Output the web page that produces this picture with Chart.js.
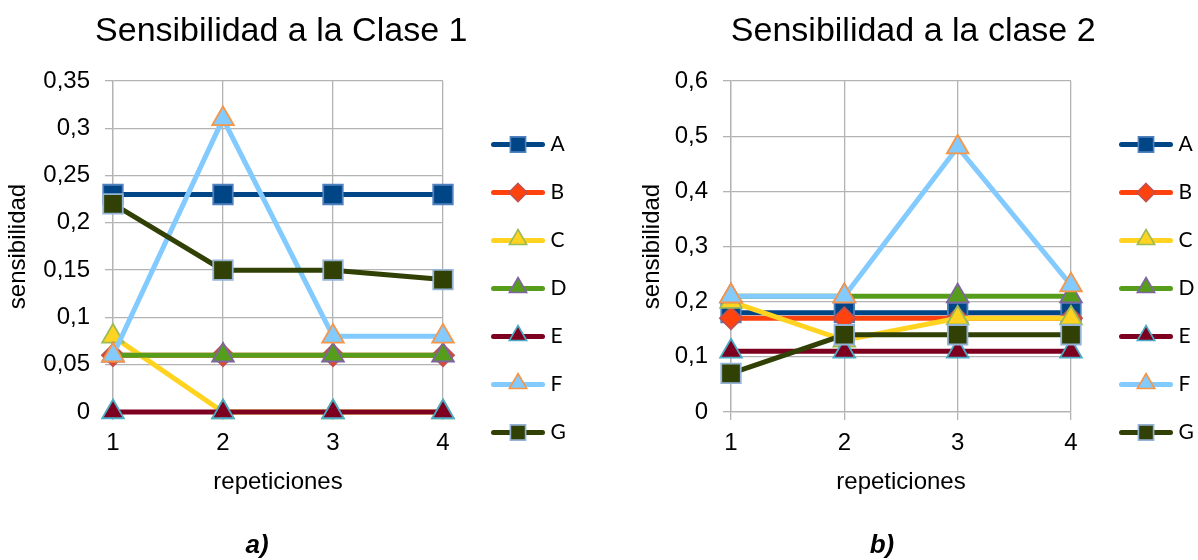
<!DOCTYPE html>
<html>
<head>
<meta charset="utf-8">
<title>Sensibilidad por clase</title>
<script src="https://cdn.jsdelivr.net/npm/chart.js@4/dist/chart.umd.min.js"></script>
<style>
  html, body { margin: 0; padding: 0; background: #fff; width: 1198px; height: 560px; overflow: hidden; }
  canvas { position: absolute; }
  #chart1 { left: -14px; top: 15px; }
  #chart2 { left: 622px; top: 15px; }
  .tag { position: absolute; width: 100px; text-align: center; top: 531px;
         font: italic bold 26px 'Liberation Sans', Arial, sans-serif; line-height: 26px; color: #000; }
</style>
</head>
<body>
<canvas id="chart1"></canvas>
<canvas id="chart2"></canvas>
<div class="tag" style="left:207px">a)</div>
<div class="tag" style="left:832px">b)</div>
<script>
// ---- data ----------------------------------------------------------
const repeticiones = ['1', '2', '3', '4'];
const seriesNames = ['A', 'B', 'C', 'D', 'E', 'F', 'G'];

// Sensibilidad a la Clase 1
const clase1A = [0.23, 0.23, 0.23, 0.23];
const clase1B = [0.06, 0.06, 0.06, 0.06];
const clase1C = [0.08, 0, 0, 0];
const clase1D = [0.06, 0.06, 0.06, 0.06];
const clase1E = [0, 0, 0, 0];
const clase1F = [0.06, 0.31, 0.08, 0.08];
const clase1G = [0.22, 0.15, 0.15, 0.14];

// Sensibilidad a la clase 2
const clase2A = [0.18, 0.18, 0.18, 0.18];
const clase2B = [0.17, 0.17, 0.17, 0.17];
const clase2C = [0.2, 0.13, 0.17, 0.17];
const clase2D = [0.21, 0.21, 0.21, 0.21];
const clase2E = [0.11, 0.11, 0.11, 0.11];
const clase2F = [0.21, 0.21, 0.48, 0.23];
const clase2G = [0.07, 0.14, 0.14, 0.14];

const yTicks1 = [0, 0.05, 0.1, 0.15, 0.2, 0.25, 0.3, 0.35];
const yLabels1 = ['0', '0,05', '0,1', '0,15', '0,2', '0,25', '0,3', '0,35'];
const yTicks2 = [0, 0.1, 0.2, 0.3, 0.4, 0.5, 0.6];
const yLabels2 = ['0', '0,1', '0,2', '0,3', '0,4', '0,5', '0,6'];

// ---- styling -------------------------------------------------------
const SANS = "'Liberation Sans', Arial, sans-serif";
const LEGEND_FONT = { family: 'Lato', size: 21 };
const GRID = '#b3b3b3';

const seriesStyle = [
  { line: '#004586', fill: '#004586', edge: '#4f81bd', shape: 'rect' },
  { line: '#ff420e', fill: '#ff420e', edge: '#c0504d', shape: 'rectRot' },
  { line: '#ffd320', fill: '#ffd320', edge: '#9bbb59', shape: 'triangle' },
  { line: '#579d1c', fill: '#579d1c', edge: '#8064a2', shape: 'triangle' },
  { line: '#7e0021', fill: '#7e0021', edge: '#4bacc6', shape: 'triangle' },
  { line: '#83caff', fill: '#83caff', edge: '#f79646', shape: 'triangle' },
  { line: '#314004', fill: '#314004', edge: '#95b3d7', shape: 'rect' }
];
const markerRadius = { rect: 13.8, rectRot: 11, triangle: 12.5 };

// legend geometry
const LEG_PAD = 27;        // vertical gap between entries and left inset
const LEG_BOX = 70;        // width reserved for the line+marker icon
const ICON_W = 82, ICON_H = 27;

// small line-with-marker icon used by each legend entry
function legendIcon(st) {
  const c = document.createElement('canvas');
  c.width = ICON_W; c.height = ICON_H;
  const g = c.getContext('2d');
  const cy = ICON_H / 2, mx = 54;
  g.lineCap = 'round';
  g.lineWidth = 5;
  g.strokeStyle = st.line;
  g.beginPath(); g.moveTo(29.5, cy); g.lineTo(78.5, cy); g.stroke();
  g.fillStyle = st.fill;
  g.strokeStyle = st.edge;
  g.lineWidth = 1.6;
  g.beginPath();
  if (st.shape === 'rect') {
    const h = 7.6;
    g.rect(mx - h, cy - h, 2 * h, 2 * h);
  } else if (st.shape === 'rectRot') {
    const r = 9;
    g.moveTo(mx, cy - r); g.lineTo(mx + r, cy); g.lineTo(mx, cy + r); g.lineTo(mx - r, cy); g.closePath();
  } else {
    const r = 10;
    const s = Math.sin(2 * Math.PI / 3) * r;
    g.moveTo(mx, cy - r - 1); g.lineTo(mx + s, cy + r / 2 - 1); g.lineTo(mx - s, cy + r / 2 - 1); g.closePath();
  }
  g.fill(); g.stroke();
  return c;
}
const legendIcons = seriesStyle.map(legendIcon);

function buildDatasets(values) {
  return seriesNames.map((name, i) => {
    const st = seriesStyle[i];
    return {
      label: name,
      data: values[i],
      borderColor: st.line,
      backgroundColor: st.fill,
      borderWidth: 5,
      pointStyle: st.shape,
      pointRadius: markerRadius[st.shape],
      pointHoverRadius: markerRadius[st.shape],
      pointBackgroundColor: st.fill,
      pointBorderColor: st.edge,
      pointBorderWidth: 1.8,
      order: seriesNames.length - 1 - i,   // later series are drawn on top
      clip: false
    };
  });
}

// widest legend text, so the plot width can be fixed exactly
const measureCtx = document.createElement('canvas').getContext('2d');
measureCtx.font = LEGEND_FONT.size + 'px ' + LEGEND_FONT.family;
const legendTextW = Math.max(...seriesNames.map(s => measureCtx.measureText(s).width));

function makeChart(id, cfg) {
  const canvas = document.getElementById(id);
  const exactW = cfg.yAxisWidth + cfg.plotWidth + LEG_PAD + LEG_BOX + LEGEND_FONT.size / 2 + legendTextW + 10;
  canvas.width = Math.ceil(exactW);
  canvas.height = 547;
  const padRight = canvas.width - exactW;

  return new Chart(canvas, {
    type: 'line',
    data: { labels: repeticiones, datasets: buildDatasets(cfg.values) },
    options: {
      responsive: false,
      animation: false,
      events: [],
      layout: { padding: { left: 0, right: padRight, top: 0, bottom: 0 } },
      plugins: {
        title: {
          display: true,
          text: cfg.title,
          color: '#000',
          font: { family: SANS, size: 34, weight: 'normal', lineHeight: 1 },
          padding: { top: 0, bottom: 32 }
        },
        legend: {
          position: 'right',
          labels: {
            usePointStyle: true,
            pointStyleWidth: LEG_BOX,
            padding: LEG_PAD,
            color: '#000',
            font: LEGEND_FONT,
            sort: (a, b) => a.datasetIndex - b.datasetIndex,
            generateLabels: chart =>
              Chart.defaults.plugins.legend.labels.generateLabels(chart)
                .map(item => Object.assign(item, { pointStyle: legendIcons[item.datasetIndex] }))
          }
        },
        tooltip: { enabled: false }
      },
      scales: {
        x: {
          grid: { color: GRID, lineWidth: 1.3, tickLength: 8 },
          border: { color: GRID, width: 1.3 },
          ticks: { color: '#000', font: { family: SANS, size: 24 }, padding: 8.6, maxRotation: 0, autoSkip: false },
          title: { display: true, text: 'repeticiones', color: '#000',
                   font: { family: SANS, size: 24 }, padding: { top: 0, bottom: 65.6 } },
          afterFit: s => { s.height = 150; }
        },
        y: {
          min: 0,
          max: cfg.yTicks[cfg.yTicks.length - 1],
          afterBuildTicks: s => { s.ticks = cfg.yTicks.map(v => ({ value: v })); },
          grid: { color: GRID, lineWidth: 1.3, tickLength: 8 },
          border: { color: GRID, width: 1.3 },
          ticks: { color: '#000', font: { family: SANS, size: 24 }, padding: 15,
                   callback: (v, i) => cfg.yLabels[i] },
          title: { display: true, text: 'sensibilidad', color: '#000',
                   font: { family: SANS, size: 24 }, padding: { top: cfg.yTitlePad, bottom: 0 } },
          afterFit: s => { s.width = cfg.yAxisWidth; }
        }
      }
    }
  });
}

makeChart('chart1', {
  title: 'Sensibilidad a la Clase 1',
  values: [clase1A, clase1B, clase1C, clase1D, clase1E, clase1F, clase1G],
  yTicks: yTicks1, yLabels: yLabels1,
  yAxisWidth: 127, plotWidth: 330, yTitlePad: 17.6
});

makeChart('chart2', {
  title: 'Sensibilidad a la clase 2',
  values: [clase2A, clase2B, clase2C, clase2D, clase2E, clase2F, clase2G],
  yTicks: yTicks2, yLabels: yLabels2,
  yAxisWidth: 109, plotWidth: 340, yTitlePad: 15.6
});
</script>
</body>
</html>
